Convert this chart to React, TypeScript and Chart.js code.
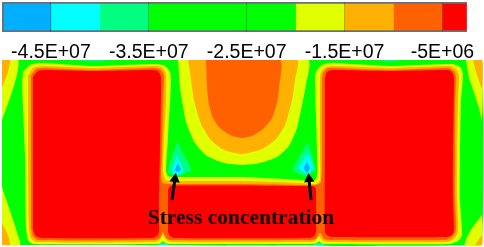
import React, { useEffect, useRef } from "react";
import { Chart, registerables } from "chart.js";

Chart.register(...registerables);

type P = [number, number];

// Colour bar
const levelEdges = [-5e7, -4.5e7, -4e7, -3.5e7, -3e7, -2.5e7, -2e7, -1.5e7, -1e7, -5e6, -2.5e6];
const levelColors = ["#00b0ff", "#00ffff", "#00ff80", "#00ff00", "#00ff00", "#00ff00", "#e0ff00", "#ffb000", "#ff6000", "#ff0000"];
const tickValues = [-4.5e7, -3.5e7, -2.5e7, -1.5e7, -5e6];
const tickLabels = ["-4.5E+07", "-3.5E+07", "-2.5E+07", "-1.5E+07", "-5E+06"];

const BLUE = "#00b0ff", CYAN = "#00ffff", SPRING = "#00ff80", GREEN = "#00ff00";
const YELLOW = "#e0ff00", ORANGE = "#ffb000", ORED = "#ff6000", RED = "#ff0000";

// Contour bands
const fieldBox: P[] = [[2, 60], [482, 60], [482, 245], [2, 245]];

const cornerTL1: P[] = [[2, 60], [18, 60], [17, 75], [10, 98], [2, 120]];
const cornerTL2: P[] = [[2, 60], [10, 60], [8, 72], [2, 88]];
const cornerBL1: P[] = [[2, 187], [7, 202], [17, 232], [20, 245], [2, 245]];
const cornerBL2: P[] = [[2, 223], [8, 235], [10, 245], [2, 245]];
const cornerTR1: P[] = [[466, 60], [482, 60], [482, 120], [479, 108], [469, 78]];
const cornerTR2: P[] = [[473, 60], [482, 60], [482, 88], [476, 72]];
const cornerBR1: P[] = [[482, 215], [482, 245], [465, 245], [468, 235], [472, 228]];
const cornerBR2: P[] = [[482, 235], [482, 245], [475, 245]];

const topSpot1: P[] = [[78, 60], [108, 60], [100, 61.5], [86, 61.5]];
const topSpot2: P[] = [[378, 60], [400, 60], [394, 61.5], [384, 61.5]];
const neckSpot1: P[] = [[157, 245], [169, 245], [165, 243.5], [161, 243.5]];
const neckSpot2: P[] = [[313, 245], [325, 245], [321, 243.5], [317, 243.5]];

const blobYellow: P[] = [[178, 60], [308, 60], [306, 85], [302, 105], [297, 128], [289, 146], [277, 157], [260, 163], [242, 165], [224, 163], [207, 156], [195, 143], [186, 122], [180, 88]];
const blobOrange: P[] = [[188, 60], [297, 60], [295, 80], [292, 100], [285, 125], [276, 139], [262, 149], [242, 154], [224, 150], [211, 140], [201, 124], [194, 100], [191, 80]];
const blobRed: P[] = [[206, 60], [280, 60], [279, 88], [277, 103], [272, 118], [264, 128], [254, 135], [242, 138], [230, 135], [220, 128], [213, 118], [209, 105], [207, 88]];

const ringYellow: P[] = [[23, 72], [30, 65], [40, 63], [93, 66], [157, 64], [165, 66], [170, 72], [171, 82], [168, 138], [166, 170], [168, 176], [175, 177], [242, 177], [300, 180], [314, 181], [317, 176], [317, 150], [315, 82], [316, 72], [322, 65], [330, 63], [390, 66], [452, 64], [460, 67], [463, 74], [461, 100], [460, 155], [460, 200], [462, 235], [458, 241], [449, 244], [330, 244], [322, 243.5], [319, 241.5], [316, 243.5], [312, 244], [170, 244], [166, 243.5], [163, 241.5], [160, 243.5], [157, 244], [33, 244], [28, 240], [26, 228], [25, 155], [22, 85]];
const ringOrange: P[] = [[28, 76], [33, 68], [42, 66], [93, 68], [157, 66], [163, 68], [166, 74], [166, 100], [164, 140], [163, 172], [166, 180], [174, 181], [242, 181], [300, 183], [316, 184], [320, 180], [320, 150], [320, 80], [321, 72], [326, 67], [335, 66], [390, 68], [450, 66], [456, 69], [459, 76], [458, 100], [457, 155], [457, 200], [458, 232], [454, 239], [447, 242], [330, 242], [323, 241], [319, 236], [315, 241], [310, 242], [171, 242], [166, 240], [163, 234], [160, 240], [155, 242], [36, 242], [31, 238], [29, 228], [28, 155]];
const ringOrangeRed: P[] = [[31, 76], [36, 69], [44, 68], [93, 70], [155, 68], [161, 70], [164, 76], [163, 100], [162, 150], [161, 178], [163, 183], [170, 184], [242, 184], [300, 185], [316, 185], [321, 182], [322, 150], [322, 80], [323, 73], [328, 68], [335, 68], [390, 70], [448, 68], [454, 71], [456, 77], [455, 100], [455, 155], [455, 200], [456, 230], [452, 237], [445, 240], [330, 240], [324, 239], [320, 233], [316, 239], [310, 240], [170, 240], [166, 238], [163, 232], [160, 238], [155, 240], [38, 240], [33, 236], [31, 228]];

const blockLeft: P[] = [[33, 77], [38, 71], [46, 70], [93, 71], [152, 70], [158, 71], [161, 77], [160, 150], [159, 200], [159, 232], [157, 236], [152, 238], [42, 238], [36, 236], [33, 230]];
const blockMid: P[] = [[168, 190], [170, 186], [175, 185.5], [242, 185.5], [300, 186], [312, 186], [315, 187], [316, 190], [316, 232], [314, 236], [310, 238], [174, 238], [170, 236], [168, 232]];
const blockRight: P[] = [[325, 78], [327, 72], [332, 70], [340, 70], [390, 71], [448, 70], [452, 72], [454, 78], [453, 150], [453, 200], [454, 230], [452, 235], [447, 237], [333, 237], [328, 236], [325, 232], [325, 150]];

const spotL1: P[] = [[177, 142], [168, 172], [177, 176], [192, 170]];
const spotL2: P[] = [[177, 155], [172, 172], [177, 175], [184, 172]];
const spotL3: P[] = [[178, 163], [175, 170], [178, 172], [181, 170]];
const spotR1: P[] = [[308, 142], [293, 170], [307, 176], [316, 170]];
const spotR2: P[] = [[308, 153], [299, 168], [307, 174], [314, 168]];
const spotR3: P[] = [[307, 162], [304, 168], [307, 173], [310, 168]];

const arrowLeft: P[] = [[172, 200], [175, 179]];
const arrowRight: P[] = [[311, 200], [309, 179]];

const noteText = "Stress concentration";
const notePos: P = [241, 218.5];

const bands: [P[], string][] = [
  [fieldBox, GREEN],
  [cornerTL1, YELLOW], [cornerTL2, ORANGE], [cornerBL1, YELLOW], [cornerBL2, ORANGE],
  [cornerTR1, YELLOW], [cornerTR2, ORANGE], [cornerBR1, YELLOW], [cornerBR2, ORANGE],
  [topSpot1, SPRING], [topSpot2, SPRING], [neckSpot1, CYAN], [neckSpot2, CYAN],
  [blobYellow, YELLOW], [blobOrange, ORANGE], [blobRed, ORED],
  [ringYellow, YELLOW], [ringOrange, ORANGE], [ringOrangeRed, ORED],
  [blockLeft, RED], [blockMid, RED], [blockRight, RED],
  [spotL1, SPRING], [spotL2, CYAN], [spotL3, BLUE],
  [spotR1, SPRING], [spotR2, CYAN], [spotR3, BLUE],
];

const toXY = (pts: P[]) => pts.map(([x, y]) => ({ x, y }));

export default function App() {
  const barRef = useRef<HTMLCanvasElement>(null);
  const fieldRef = useRef<HTMLCanvasElement>(null);

  useEffect(() => {
    const barChart = new Chart(barRef.current!, {
      type: "bar",
      data: {
        labels: [""],
        datasets: [
          ...levelColors.map((c, i) => ({
            data: [[levelEdges[i], levelEdges[i + 1]]] as any,
            backgroundColor: c,
            borderWidth: 0,
            barPercentage: 1,
            categoryPercentage: 1,
            grouped: false,
            order: 1,
          })),
          {
            data: [[levelEdges[0], levelEdges[levelEdges.length - 1]]] as any,
            backgroundColor: "rgba(0,0,0,0)",
            borderColor: "#6a7076",
            borderWidth: 1.5,
            barPercentage: 1,
            categoryPercentage: 1,
            grouped: false,
            order: 0,
          },
        ],
      },
      options: {
        indexAxis: "y",
        responsive: false,
        animation: false,
        layout: { padding: { left: 2, right: 17, top: 2, bottom: 0 } },
        plugins: { legend: { display: false }, tooltip: { enabled: false } },
        scales: {
          y: { display: false },
          x: {
            min: levelEdges[0],
            max: levelEdges[levelEdges.length - 1],
            afterBuildTicks: (axis: any) => {
              axis.ticks = tickValues.map((value) => ({ value }));
            },
            grid: { color: "rgba(0,40,0,0.3)", lineWidth: 1, z: 1, drawTicks: false },
            border: { display: false },
            ticks: {
              color: "#000",
              padding: 9,
              autoSkip: false,
              maxRotation: 0,
              font: { family: "'Liberation Sans'", size: 19.5 },
              callback: (v: any) => tickLabels[tickValues.indexOf(Number(v))] ?? "",
            },
          },
        },
      },
    } as any);

    const notePlugin = {
      id: "note",
      afterDatasetsDraw(c: any) {
        const { ctx, scales } = c;
        ctx.save();
        ctx.font = "bold 21.5px 'Liberation Serif'";
        ctx.fillStyle = "#100000";
        ctx.textAlign = "center";
        ctx.textBaseline = "middle";
        ctx.fillText(noteText, scales.x.getPixelForValue(notePos[0]), scales.y.getPixelForValue(notePos[1]));
        ctx.restore();
      },
    };

    const arrowSet = (pts: P[]) => {
      const dx = pts[1][0] - pts[0][0];
      const dy = pts[1][1] - pts[0][1];
      const rot = (Math.atan2(dx, -dy) * 180) / Math.PI;
      return {
        type: "scatter",
        data: toXY(pts),
        showLine: true,
        borderColor: "#000",
        borderWidth: 3,
        tension: 0,
        fill: false,
        order: 0,
        pointStyle: "triangle",
        pointRadius: [0, 6],
        pointRotation: [0, rot],
        pointBackgroundColor: "#000",
        pointBorderColor: "#000",
        pointBorderWidth: 0,
      };
    };

    const fieldChart = new Chart(fieldRef.current!, {
      type: "scatter",
      data: {
        datasets: [
          ...bands.map(([pts, color], i) => ({
            data: toXY(pts),
            showLine: true,
            fill: "shape",
            tension: 0.2,
            backgroundColor: color,
            borderColor: color,
            borderWidth: 0,
            pointRadius: 0,
            order: bands.length - i,
          })),
          arrowSet(arrowLeft),
          arrowSet(arrowRight),
        ],
      },
      options: {
        responsive: false,
        animation: false,
        layout: { padding: 0, autoPadding: false },
        plugins: { legend: { display: false }, tooltip: { enabled: false } },
        scales: {
          x: { type: "linear", display: false, min: 0, max: 484 },
          y: { type: "linear", display: false, min: 60, max: 247, reverse: true },
        },
      },
      plugins: [notePlugin],
    } as any);

    return () => {
      barChart.destroy();
      fieldChart.destroy();
    };
  }, []);

  return (
    <div style={{ position: "fixed", left: 0, top: 0, width: 484, height: 247, background: "#fff", overflow: "hidden" }}>
      <canvas ref={barRef} width={484} height={62} style={{ position: "absolute", left: 0, top: 0, filter: "blur(0.4px)" }} />
      <canvas ref={fieldRef} width={484} height={187} style={{ position: "absolute", left: 0, top: 60, filter: "blur(0.6px)" }} />
    </div>
  );
}
